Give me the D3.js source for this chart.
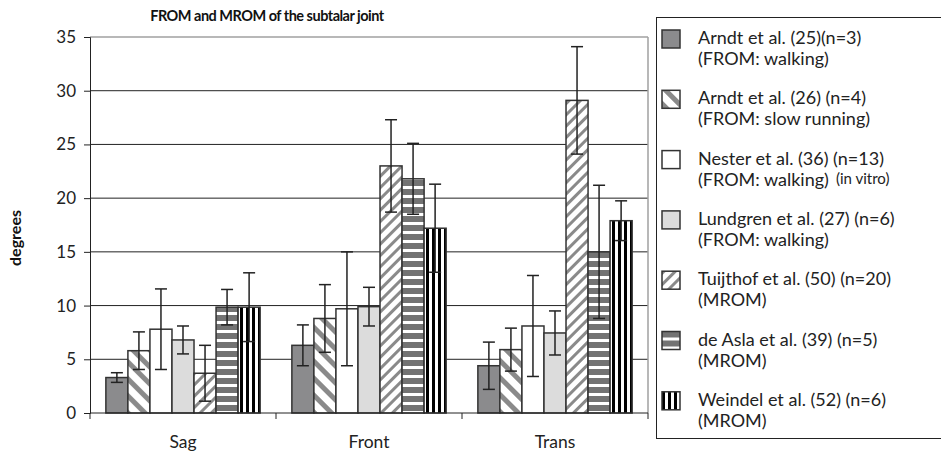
<!DOCTYPE html>
<html>
<head>
<meta charset="utf-8">
<script src="https://cdn.jsdelivr.net/npm/d3@7"></script>
<style>
  body { margin: 0; background: #fff; }
  svg { display: block; font-family: Lato, "Open Sans", sans-serif; }
</style>
</head>
<body>
<div id="chart"></div>
<script>
// categories and tick values
var categories = ["Sag", "Front", "Trans"];
var yTicks = [0, 5, 10, 15, 20, 25, 30, 35];

// study labels (two lines each in the legend)
var studyNames = ["Arndt et al. (25)(n=3)", "Arndt et al. (26) (n=4)", "Nester et al. (36) (n=13)",
  "Lundgren et al. (27) (n=6)", "Tuijthof et al. (50) (n=20)", "de Asla et al. (39) (n=5)", "Weindel et al. (52) (n=6)"];
var studyNotes = ["(FROM: walking)", "(FROM: slow running)", "(FROM: walking)",
  "(FROM: walking)", "(MROM)", "(MROM)", "(MROM)"];

// mean range of motion (degrees) for Sag, Front, Trans
var arndt25 = [3.3, 6.3, 4.4];
var arndt26 = [5.8, 8.8, 5.9];
var nester = [7.8, 9.7, 8.1];
var lundgren = [6.8, 9.9, 7.45];
var tuijthof = [3.7, 23.0, 29.1];
var deAsla = [9.85, 21.8, 15.0];
var weindel = [9.85, 17.2, 17.9];

// standard deviations
var arndt25Sd = [0.45, 1.9, 2.2];
var arndt26Sd = [1.75, 3.15, 2.0];
var nesterSd = [3.75, 5.3, 4.7];
var lundgrenSd = [1.3, 1.8, 2.05];
var tuijthofSd = [2.6, 4.3, 5.0];
var deAslaSd = [1.65, 3.3, 6.2];
var weindelSd = [3.2, 4.1, 1.85];

var means = [arndt25, arndt26, nester, lundgren, tuijthof, deAsla, weindel];
var sds = [arndt25Sd, arndt26Sd, nesterSd, lundgrenSd, tuijthofSd, deAslaSd, weindelSd];
var fills = ["#8b8b8d", "url(#diagDown)", "#ffffff", "#dcdcdc", "url(#diagUp)", "url(#hstripe)", "url(#vstripe)"];

var W = 941, H = 455;
var plot = { left: 90, right: 648, top: 37, bottom: 413 };

var svg = d3.select("#chart").append("svg")
  .attr("width", W)
  .attr("height", H);

// patterns
var defs = svg.append("defs");
var p1 = defs.append("pattern").attr("id", "diagDown")
  .attr("patternUnits", "userSpaceOnUse").attr("width", 12).attr("height", 12)
  .attr("patternTransform", "rotate(-45)");
p1.append("rect").attr("width", 12).attr("height", 12).attr("fill", "#fff");
p1.append("rect").attr("width", 5).attr("height", 12).attr("fill", "#8a8a8a");

var p2 = defs.append("pattern").attr("id", "diagUp")
  .attr("patternUnits", "userSpaceOnUse").attr("width", 8).attr("height", 8)
  .attr("patternTransform", "rotate(45)");
p2.append("rect").attr("width", 8).attr("height", 8).attr("fill", "#fff");
p2.append("rect").attr("width", 3).attr("height", 8).attr("fill", "#8a8a8a");

var p3 = defs.append("pattern").attr("id", "hstripe")
  .attr("patternUnits", "userSpaceOnUse").attr("width", 9).attr("height", 9);
p3.append("rect").attr("width", 9).attr("height", 9).attr("fill", "#fff");
p3.append("rect").attr("width", 9).attr("height", 6).attr("fill", "#737373");

var p4 = defs.append("pattern").attr("id", "vstripe")
  .attr("patternUnits", "userSpaceOnUse").attr("width", 6).attr("height", 6);
p4.append("rect").attr("width", 6).attr("height", 6).attr("fill", "#fff");
p4.append("rect").attr("width", 3).attr("height", 6).attr("fill", "#000");

// scales
var x0 = d3.scaleBand().domain(categories).range([plot.left, plot.right]);
var x1 = d3.scaleBand().domain(d3.range(studyNames.length))
  .range([0, x0.bandwidth()]).paddingOuter(0.72).paddingInner(0);
var y = d3.scaleLinear().domain([0, 35]).range([plot.bottom, plot.top]);

// grid lines
svg.append("g").selectAll("line")
  .data(yTicks.filter(function(d) { return d > 0; }))
  .enter().append("line")
  .attr("x1", plot.left).attr("x2", plot.right)
  .attr("y1", function(d) { return y(d); })
  .attr("y2", function(d) { return y(d); })
  .attr("stroke", function(d) { return d === 35 ? "#a0a0a0" : "#222"; })
  .attr("stroke-width", function(d) { return d === 35 ? 1.5 : 1; });

// right border
svg.append("line")
  .attr("x1", plot.right).attr("x2", plot.right)
  .attr("y1", plot.top).attr("y2", plot.bottom)
  .attr("stroke", "#a0a0a0").attr("stroke-width", 1.5);

// bars
var rows = [];
means.forEach(function(vals, s) {
  vals.forEach(function(v, c) {
    rows.push({ s: s, cat: categories[c], v: v, sd: sds[s][c] });
  });
});

svg.append("g").selectAll("rect")
  .data(rows)
  .enter().append("rect")
  .attr("x", function(d) { return x0(d.cat) + x1(d.s); })
  .attr("y", function(d) { return y(d.v); })
  .attr("width", x1.bandwidth())
  .attr("height", function(d) { return y(0) - y(d.v); })
  .attr("fill", function(d) { return fills[d.s]; })
  .attr("stroke", "#333")
  .attr("stroke-width", 1.5);

// error bars
var eb = svg.append("g").attr("stroke", "#222").attr("stroke-width", 1.5);
var cap = 6;
rows.forEach(function(d) {
  var cx = x0(d.cat) + x1(d.s) + x1.bandwidth() / 2;
  var lo = y(d.v - d.sd), hi = y(d.v + d.sd);
  eb.append("line").attr("x1", cx).attr("x2", cx).attr("y1", lo).attr("y2", hi);
  eb.append("line").attr("x1", cx - cap).attr("x2", cx + cap).attr("y1", lo).attr("y2", lo);
  eb.append("line").attr("x1", cx - cap).attr("x2", cx + cap).attr("y1", hi).attr("y2", hi);
});

// y axis
var yAxis = svg.append("g")
  .attr("transform", "translate(" + plot.left + ",0)")
  .call(d3.axisLeft(y).tickValues(yTicks).tickSize(6).tickPadding(8));
yAxis.select(".domain").attr("stroke", "#222");
yAxis.selectAll(".tick line").attr("stroke", "#222");
yAxis.selectAll("text").attr("font-size", 17).attr("fill", "#222")
  .attr("font-family", "Lato, sans-serif");

// x axis
var xAxis = svg.append("g")
  .attr("transform", "translate(0," + plot.bottom + ")");
xAxis.append("line").attr("x1", plot.left).attr("x2", plot.right)
  .attr("stroke", "#222");
xAxis.selectAll(".xt")
  .data(categories.map(function(c) { return x0(c); }).concat([plot.right]))
  .enter().append("line")
  .attr("x1", function(d) { return d; }).attr("x2", function(d) { return d; })
  .attr("y1", 0).attr("y2", 6).attr("stroke", "#222");
xAxis.selectAll("text")
  .data(categories)
  .enter().append("text")
  .attr("x", function(d) { return x0(d) + x0.bandwidth() / 2; })
  .attr("y", 35)
  .attr("text-anchor", "middle")
  .attr("font-size", 17.5)
  .attr("fill", "#222")
  .text(function(d) { return d; });

// title
svg.append("text")
  .attr("x", 267).attr("y", 21)
  .attr("text-anchor", "middle")
  .attr("font-size", 14.5).attr("font-weight", "bold")
  .attr("letter-spacing", -0.5)
  .attr("fill", "#111")
  .text("FROM and MROM of the subtalar joint");

// y label
svg.append("text")
  .attr("transform", "translate(21,238) rotate(-90)")
  .attr("text-anchor", "middle")
  .attr("font-size", 16).attr("font-weight", "bold")
  .attr("fill", "#111")
  .text("degrees");

// legend
var legend = svg.append("g");
legend.append("rect")
  .attr("x", 656.5).attr("y", 17.5).attr("width", 300).attr("height", 421)
  .attr("fill", "none").attr("stroke", "#222").attr("stroke-width", 1);

var items = legend.selectAll(".item")
  .data(studyNames)
  .enter().append("g")
  .attr("transform", function(d, i) { return "translate(662," + (30 + i * 60.3) + ")"; });
items.append("rect")
  .attr("width", 18).attr("height", 18)
  .attr("fill", function(d, i) { return fills[i]; })
  .attr("stroke", "#333").attr("stroke-width", 1.5);
items.append("text")
  .attr("x", 36).attr("y", 14)
  .attr("font-size", 18).attr("fill", "#222")
  .text(function(d) { return d; });
items.append("text")
  .attr("x", 36).attr("y", 35)
  .attr("font-size", 18).attr("fill", "#222")
  .text(function(d, i) { return studyNotes[i]; });
legend.append("text")
  .attr("x", 836).attr("y", 30 + 2 * 60.3 + 33)
  .attr("font-size", 15).attr("fill", "#222")
  .text("(in vitro)");
</script>
</body>
</html>
